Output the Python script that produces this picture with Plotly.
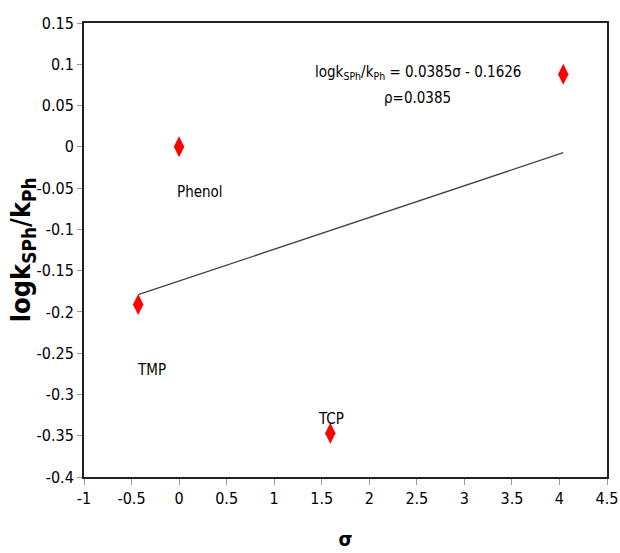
import plotly.graph_objects as go

# Data
sigma = [-0.43, 0.0, 1.59, 4.04]
log_ratio = [-0.191, 0.0, -0.347, 0.088]
point_labels = ["TMP", "Phenol", "TCP", ""]

slope = 0.0385
intercept = -0.1626

x_ticks = [-1, -0.5, 0, 0.5, 1, 1.5, 2, 2.5, 3, 3.5, 4, 4.5]
x_ticktext = ["-1", "-0.5", "0", "0.5", "1", "1.5", "2", "2.5", "3", "3.5", "4", "4.5"]
y_ticks = [0.15, 0.1, 0.05, 0, -0.05, -0.1, -0.15, -0.2, -0.25, -0.3, -0.35, -0.4]
y_ticktext = ["0.15", "0.1", "0.05", "0", "-0.05", "-0.1", "-0.15", "-0.2", "-0.25", "-0.3", "-0.35", "-0.4"]

FONT = "DejaVu Sans Condensed, Liberation Sans Narrow, sans-serif"

fit_x = [min(sigma), max(sigma)]
fit_y = [slope * v + intercept for v in fit_x]

fig = go.Figure()
fig.add_trace(go.Scatter(x=fit_x, y=fit_y, mode="lines",
                         line=dict(color="#404040", width=1.3), showlegend=False))
fig.add_trace(go.Scatter(x=sigma, y=log_ratio, mode="markers",
                         marker=dict(symbol="diamond-tall", size=15, color="#ff0000"),
                         showlegend=False))

# label annotations
label_pos = {"Phenol": (0.22, -0.055), "TMP": (-0.29, -0.27), "TCP": (1.6, -0.33)}
for name, (lx, ly) in label_pos.items():
    fig.add_annotation(x=lx, y=ly, text=name, showarrow=False,
                       font=dict(family=FONT, size=15, color="black"))

fig.add_annotation(x=2.51, y=0.0905, showarrow=False,
                   text="logk<sub>SPh</sub>/k<sub>Ph</sub> = 0.0385σ - 0.1626",
                   font=dict(family=FONT, size=15, color="black"))
fig.add_annotation(x=2.51, y=0.059, showarrow=False, text="ρ=0.0385",
                   font=dict(family=FONT, size=15, color="black"))

# y-axis title as a rotated annotation for exact placement
fig.add_annotation(xref="paper", yref="paper", x=-0.118, y=0.5,
                   xanchor="center", yanchor="middle", textangle=-90, showarrow=False,
                   text="<b>logk<sub>SPh</sub>/k<sub>Ph</sub></b>",
                   font=dict(family=FONT, size=27, color="black"))

fig.update_layout(
    width=620, height=553,
    margin=dict(l=84, r=13, t=23, b=76),
    paper_bgcolor="white", plot_bgcolor="white",
    font=dict(family=FONT, size=16, color="black"),
)
fig.update_xaxes(range=[-1, 4.5], tickvals=x_ticks, ticktext=x_ticktext,
                 showgrid=False, zeroline=False, automargin=False,
                 showline=True, linecolor="#222222", linewidth=2, mirror=True,
                 ticks="outside", ticklen=6, tickcolor="#999999",
                 tickfont=dict(family=FONT, size=16),
                 title=dict(text="<b>σ</b>", font=dict(family=FONT, size=20), standoff=25))
fig.update_yaxes(range=[-0.4, 0.15], tickvals=y_ticks, ticktext=y_ticktext,
                 showgrid=False, zeroline=False, automargin=False,
                 showline=True, linecolor="#222222", linewidth=2, mirror=True,
                 ticks="outside", ticklen=5, tickcolor="#999999",
                 tickfont=dict(family=FONT, size=16))

fig.write_html("out.html", config={"displayModeBar": False},
               post_script="document.body.style.margin='0';document.body.style.overflow='hidden';")
